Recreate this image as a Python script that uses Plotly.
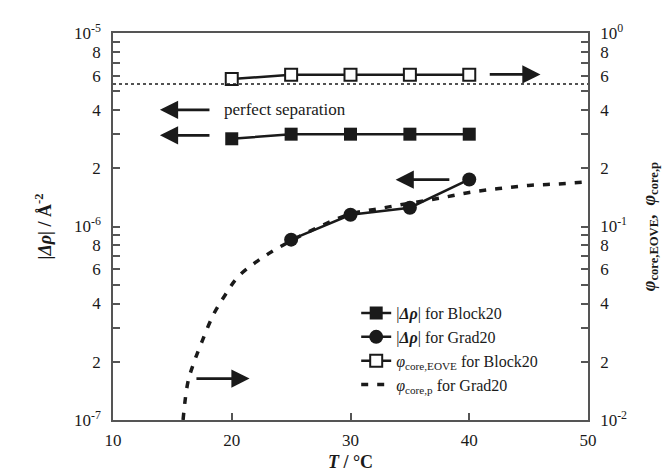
import plotly.graph_objects as go

# ---- data ----
T_block = [20, 25, 30, 35, 40]
drho_block = [2.84e-6, 3.0e-6, 3.0e-6, 3.0e-6, 3.0e-6]

T_grad = [25, 30, 35, 40]
drho_grad = [8.55e-7, 1.15e-6, 1.25e-6, 1.75e-6]

T_eove = [20, 25, 30, 35, 40]
phi_eove = [0.578, 0.609, 0.609, 0.609, 0.609]

T_phip = [15.9, 16.3, 16.8, 17.5, 18.5, 19.5, 20.5, 22, 23.5, 25, 27.5, 30,
          32.5, 35, 37.5, 40, 42.5, 45, 47.5, 50]
phi_p = [0.0100, 0.0156, 0.0197, 0.0255, 0.0355, 0.0448, 0.0547, 0.0652, 0.075,
         0.0844, 0.1006, 0.116, 0.124, 0.132, 0.140, 0.150, 0.157, 0.163, 0.166, 0.170]

T_sep = [10, 50]
phi_sep = [0.545, 0.545]

x_ticks = [10, 20, 30, 40, 50]

FONT = "Liberation Serif"
INK = "#1a1a1a"
AX = "#555555"

def log_ticks(lo_exp, hi_exp):
    vals, txt = [], []
    for e in range(lo_exp, hi_exp + 1):
        for m in range(1, 10):
            if e == hi_exp and m > 1:
                break
            vals.append(m * 10.0 ** e)
            if m == 1:
                txt.append("10<sup>%d</sup>" % e)
            elif m % 2 == 0:
                txt.append(str(m))
            else:
                txt.append("")
    return vals, txt

lv, lt = log_ticks(-7, -5)
rv, rt = log_ticks(-2, 0)

fig = go.Figure()

fig.add_trace(go.Scatter(
    x=T_phip, y=phi_p, mode="lines", yaxis="y2", showlegend=False,
    line=dict(color=INK, width=3.5, dash="7px,9px", shape="spline")))

fig.add_trace(go.Scatter(
    x=T_block, y=drho_block, mode="lines+markers", yaxis="y",
    name="|<b><i>Δρ</i></b>| for Block20",
    line=dict(color=INK, width=2.5),
    marker=dict(symbol="square", size=13, color=INK)))

fig.add_trace(go.Scatter(
    x=T_grad, y=drho_grad, mode="lines+markers", yaxis="y",
    name="|<b><i>Δρ</i></b>| for Grad20",
    line=dict(color=INK, width=2.5),
    marker=dict(symbol="circle", size=14, color=INK)))

fig.add_trace(go.Scatter(
    x=T_eove, y=phi_eove, mode="lines+markers", yaxis="y2",
    name="<i>φ</i><sub>core,EOVE</sub> for Block20",
    line=dict(color=INK, width=2.5),
    marker=dict(symbol="square", size=12, color="white",
                line=dict(color=INK, width=2))))

# legend-only entry for the dashed curve (kept in legend order)
fig.add_trace(go.Scatter(
    x=[None], y=[None], mode="lines", yaxis="y2",
    name="<i>φ</i><sub>core,p</sub> for Grad20",
    line=dict(color=INK, width=3.5, dash="7px,9px")))

fig.add_trace(go.Scatter(
    x=T_sep, y=phi_sep, mode="lines", yaxis="y2", showlegend=False,
    line=dict(color=INK, width=1.5, dash="dot")))

# arrows: (x_head, x_tail, log10 y on left axis)
arrows = [
    (46.0, 41.6, -5.214),
    (13.95, 18.25, -5.397),
    (13.95, 18.25, -5.529),
    (33.8, 38.45, -5.758),
    (21.5, 16.9, -6.786),
]
annotations = []
for xh, xt, yl in arrows:
    annotations.append(dict(
        x=xh, y=yl, ax=xt, ay=yl, xref="x", yref="y", axref="x", ayref="y",
        showarrow=True, arrowhead=2, arrowsize=1.3, arrowwidth=2.8,
        arrowcolor=INK, text=""))
annotations.append(dict(
    x=19.2, y=-5.397, xref="x", yref="y", text="perfect separation",
    showarrow=False, xanchor="left", yanchor="middle",
    font=dict(family=FONT, size=17, color=INK)))

fig.update_layout(
    width=672, height=473,
    margin=dict(l=105, r=92, t=25, b=55),
    paper_bgcolor="white", plot_bgcolor="white",
    font=dict(family=FONT, size=17, color=INK),
    showlegend=True,
    legend=dict(x=0.512, y=0.32, xanchor="left", yanchor="top",
                bgcolor="rgba(0,0,0,0)", font=dict(family=FONT, size=16, color=INK),
                tracegroupgap=0, itemwidth=30, traceorder="normal"),
    annotations=annotations,
    xaxis=dict(range=[10, 50], tickvals=x_ticks, ticks="inside", ticklen=7,
               tickcolor=AX, tickwidth=1.5, ticklabelstandoff=4,
               showline=True, linecolor=AX, linewidth=1.5, mirror=True,
               showgrid=False, zeroline=False,
               title=dict(text="<b><i>T</i> / °C</b>", font=dict(size=18), standoff=6)),
    yaxis=dict(type="log", range=[-7, -5], tickvals=lv, ticktext=lt,
               ticks="inside", ticklen=7, tickcolor=AX, tickwidth=1.5,
               ticklabelstandoff=7,
               showline=True, linecolor=AX, linewidth=1.5,
               showgrid=False, zeroline=False,
               title=dict(text="<b>|<i>Δρ</i>| / Å<sup>-2</sup></b>", font=dict(size=18), standoff=18)),
    yaxis2=dict(type="log", range=[-2, 0], tickvals=rv, ticktext=rt,
                overlaying="y", side="right",
                ticks="inside", ticklen=7, tickcolor=AX, tickwidth=1.5,
                ticklabelstandoff=7,
                showline=True, linecolor=AX, linewidth=1.5,
                showgrid=False, zeroline=False,
                title=dict(text="<b><i>φ</i><sub>core,EOVE</sub>,  <i>φ</i><sub>core,p</sub></b>",
                           font=dict(size=18), standoff=16)),
)

fig.write_html("out.html")
